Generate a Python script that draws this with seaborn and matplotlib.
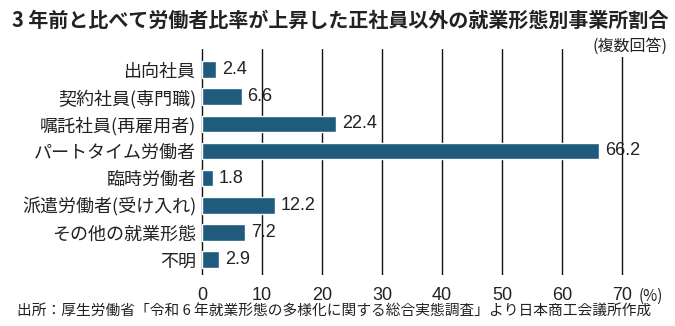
import matplotlib
matplotlib.use("Agg")
import matplotlib.pyplot as plt
import seaborn as sns
import pandas as pd

categories = ["出向社員", "契約社員(専門職)", "嘱託社員(再雇用者)", "パートタイム労働者",
              "臨時労働者", "派遣労働者(受け入れ)", "その他の就業形態", "不明"]
values = [2.4, 6.6, 22.4, 66.2, 1.8, 12.2, 7.2, 2.9]
xticks = [0, 10, 20, 30, 40, 50, 60, 70]
title = "3 年前と比べて労働者比率が上昇した正社員以外の就業形態別事業所割合"
note = "(複数回答)"
source = "出所：厚生労働省「令和 6 年就業形態の多様化に関する総合実態調査」より日本商工会議所作成"

sns.set_theme(style="white")
JP = ["Noto Sans CJK JP", "DejaVu Sans"]
NUM = ["Liberation Sans Narrow", "Liberation Sans", "DejaVu Sans"]
plt.rcParams["font.family"] = JP

df = pd.DataFrame({"cat": categories, "val": values})
color = "#1f5b7c"

fig = plt.figure(figsize=(6.75, 3.26), dpi=100)
ax = fig.add_axes([199 / 675, (326 - 275) / 326, 426 / 675, 226 / 326])

sns.barplot(data=df, x="val", y="cat", orient="h", color=color, width=0.61,
            saturation=1, ax=ax, zorder=3)

ax.set_xlim(-0.5, 70.5)
ax.set_ylim(7.57, -0.755)
ax.set_xticks(xticks)
ax.set_xticklabels([str(t) for t in xticks], fontfamily=NUM, fontsize=13, color="#222222")
ax.tick_params(axis="x", length=0, pad=9)
ax.tick_params(axis="y", length=0, pad=2, labelsize=13, labelcolor="#222222")
ax.set_xlabel("")
ax.set_ylabel("")
for s in ax.spines.values():
    s.set_visible(False)
ax.grid(False)
for t in xticks:
    ax.axvline(t, color="#111111", lw=1.0, zorder=1)

for cont in ax.containers:
    ax.bar_label(cont, labels=[f"{v:.1f}" for v in values], padding=4,
                 fontfamily=NUM, fontsize=13, color="#222222", zorder=4)

ax.annotate("(%)", xy=(70, 0), xycoords=("data", "axes fraction"),
            xytext=(12, -9), textcoords="offset points", ha="left", va="top",
            fontsize=11, color="#222222", family=JP)

fig.text(12 / 675, 1 - 20 / 326, title, fontsize=14.4, fontweight="bold",
         color="#222222", ha="left", va="center")
fig.text(668 / 675, 1 - 46 / 326, note, fontsize=11.5, color="#222222",
         ha="right", va="center", zorder=10,
         bbox=dict(facecolor="white", edgecolor="none", pad=1.5))
fig.text(17 / 675, 1 - 312 / 326, source, fontsize=10.6, color="#222222",
         ha="left", va="center")

fig.savefig("out.png", dpi=100, facecolor="white")
